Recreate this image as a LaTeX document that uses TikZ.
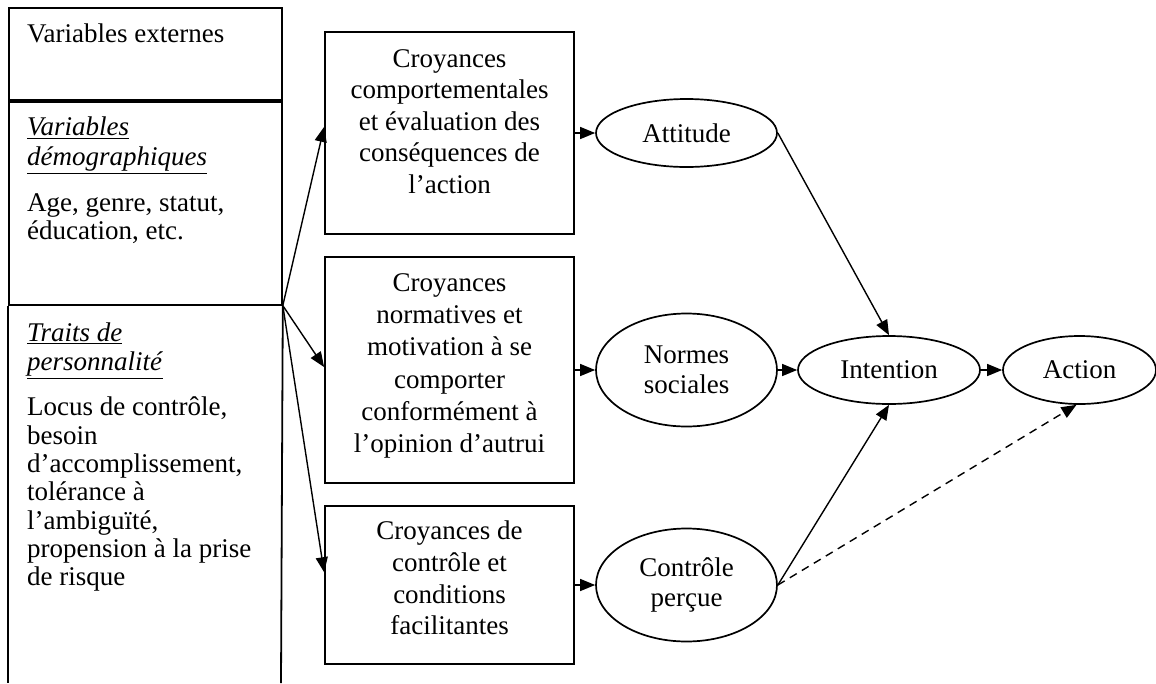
\documentclass[tikz,border=0pt]{standalone}
\usepackage{fontspec}
\setmainfont{Liberation Serif}
\usetikzlibrary{shapes.geometric,arrows.meta,calc}
\begin{document}
\begin{tikzpicture}[x=1pt,y=-1pt,
  every node/.style={font=\fontsize{27}{31.5}\selectfont},
  cell/.style={draw,line width=1.8pt,rectangle,minimum width=273pt,inner sep=0pt},
  ltext/.style={align=left,inner sep=0pt,anchor=north west},
  box/.style={draw,line width=1.8pt,rectangle,minimum width=249pt,inner sep=0pt},
  btext/.style={align=center,inner sep=0pt},
  oval/.style={draw,line width=1.7pt,ellipse,inner sep=0pt,align=center,
    font=\fontsize{27}{30}\selectfont},
  arr/.style={line width=1.4pt,-{Triangle[length=15pt,width=12pt]}},
  dasharr/.style={arr,dash pattern=on 8pt off 6pt},
]
\useasboundingbox (0,0) rectangle (1156,683);

% left column (table)
\node[cell,minimum height=92pt,anchor=north west] (c1) at (8,7) {};
\node[cell,minimum height=203pt,anchor=north west] (c2) at (c1.south west) {};
\coordinate (c3sw) at (8,683);
\coordinate (c3se) at (281,683);
\draw[line width=1.8pt] (c2.south west) -- (c3sw);
\draw[line width=1.8pt] (c2.south east) -- (c3se);

\node[ltext] (t1) at (27,24) {Variables externes};
\node[ltext,font=\fontsize{27}{30}\selectfont] (t2) at (27,117) {\underline{\textit{Variables}}\\\underline{\textit{démographiques}}};
\node[ltext,font=\fontsize{27}{28.5}\selectfont] (t3) at (27,193) {Age, genre, statut,\\éducation, etc.};
\node[ltext,font=\fontsize{27}{29}\selectfont] (t4) at (27,323) {\underline{\textit{Traits de}}\\\underline{\textit{personnalité}}};
\node[ltext,font=\fontsize{27}{28.3}\selectfont] (t5) at (27,397) {Locus de contrôle,\\besoin\\d’accomplissement,\\tolérance à\\l’ambiguïté,\\propension à la prise\\de risque};

% middle boxes
\node[box,minimum height=202pt] (b1) at (449.5,133) {};
\node[btext] (b1t) at (449.5,121.5) {Croyances\\comportementales\\et évaluation des\\conséquences de\\l’action};
\node[box,minimum height=226pt] (b2) at (449.5,370) {};
\node[btext,font=\fontsize{27}{32.2}\selectfont] (b2t) at (449.5,366) {Croyances\\normatives et\\motivation à se\\comporter\\conformément à\\l’opinion d’autrui};
\node[box,minimum height=158pt] (b3) at (449.5,585) {};
\node[btext,font=\fontsize{27}{31.7}\selectfont] (b3t) at (449.5,578) {Croyances de\\contrôle et\\conditions\\facilitantes};

% ellipses
\node[oval,minimum width=181pt,minimum height=68pt] (att) at (686.5,133) {Attitude};
\node[oval,minimum width=181pt,minimum height=113pt] (norm) at (686.5,370) {Normes\\sociales};
\node[oval,minimum width=181pt,minimum height=113pt] (ctrl) at (686.5,585) {Contrôle\\perçue};
\node[oval,minimum width=182pt,minimum height=68pt] (int) at (889,370) {Intention};
\node[oval,minimum width=153pt,minimum height=68pt] (act) at (1079.5,370) {Action};

% connectors
\coordinate (L) at (c2.south east);
\draw[arr] (L) -- ($(b1.north west)!0.47!(b1.south west)$);
\draw[arr] (L) -- ($(b2.north west)!0.487!(b2.south west)$);
\draw[arr] (L) -- ($(b3.north west)!0.42!(b3.south west)$);
\draw[arr] (b1) -- (att);
\draw[arr] (b2) -- (norm);
\draw[arr] (b3) -- (ctrl);
\draw[arr] (att.east) -- (int.north);
\draw[arr] (norm) -- (int);
\draw[arr] (ctrl.east) -- (int.south);
\draw[arr] (int) -- (act);
\draw[dasharr] (ctrl.east) -- (act.265);
\end{tikzpicture}
\end{document}
